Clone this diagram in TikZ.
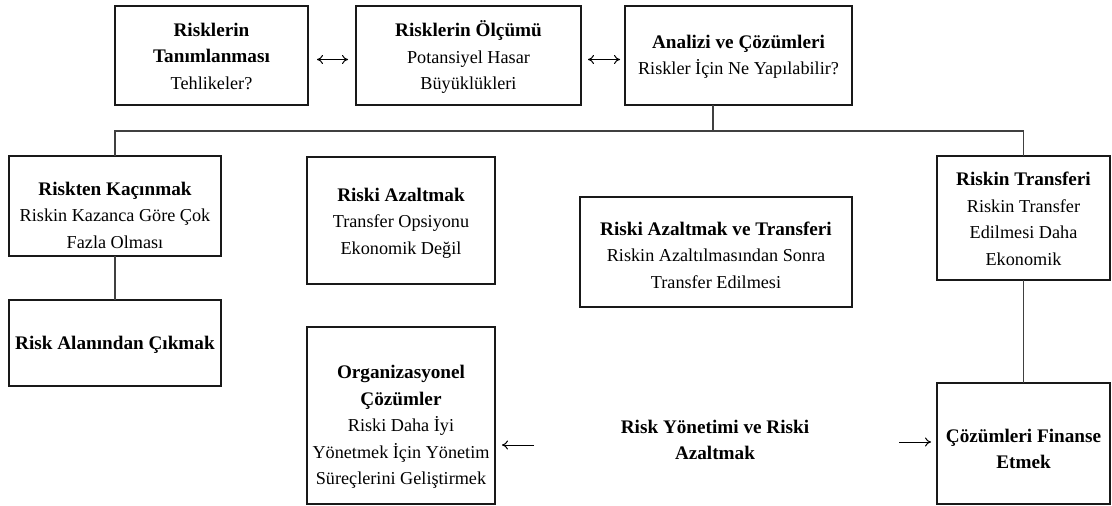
\documentclass[tikz,border=0pt]{standalone}
\usepackage{fontspec}
\setmainfont{Liberation Serif}
\usetikzlibrary{arrows.meta}

% headings are set bold and a little larger than the body lines
\newcommand{\hd}[1]{{\fontsize{19.2}{26.5}\selectfont\bfseries #1}}

\tikzset{
  box/.style={draw=black!90, line width=1.8pt, inner sep=0pt, outer sep=0pt},
  txt/.style={align=center, font=\fontsize{18.2}{26.5}\selectfont, inner sep=0pt},
  conn/.style={draw=black!75, line width=1.1pt},
  onetip/.style={draw=black, line width=1pt, arrows={-To[length=6pt,width=9pt]}},
  twotip/.style={draw=black, line width=1pt, arrows={To[length=6pt,width=9pt]-To[length=6pt,width=9pt]}}
}

\begin{document}
\begin{tikzpicture}[x=1pt, y=-1pt]
  \useasboundingbox (0,0) rectangle (1112,506);

  % top row: identification, measurement, analysis
  \node[box, minimum width=193pt, minimum height=99pt] (b1) at (211.5,55.5) {};
  \node[box, minimum width=225pt, minimum height=99pt] (b2) at (468.5,55.5) {};
  \node[box, minimum width=227pt, minimum height=99pt] (b3) at (738.5,55.5) {};
  \node[txt] (t1) at (211.5,56) {\hd{Risklerin}\\\hd{Tanımlanması}\\Tehlikeler?};
  \node[txt] (t2) at (468.5,57) {\hd{Risklerin Ölçümü}\\Potansiyel Hasar\\Büyüklükleri};
  \node[txt] (t3) at (738.5,57) {\hd{Analizi ve Çözümleri}\\Riskler İçin Ne Yapılabilir?};

  % middle row: the four options
  \node[box, minimum width=212pt, minimum height=100pt] (rk) at (115,206) {};
  \node[box, minimum width=188pt, minimum height=127pt] (ra) at (401,220.5) {};
  \node[box, minimum width=272pt, minimum height=110pt] (rat) at (716,252) {};
  \node[box, minimum width=173pt, minimum height=124pt] (rt) at (1023.5,218) {};
  \node[txt] (trk) at (115,215) {\hd{Riskten Kaçınmak}\\Riskin Kazanca Göre Çok\\Fazla Olması};
  \node[txt] (tra) at (401,223) {\hd{Riski Azaltmak}\\Transfer Opsiyonu\\Ekonomik Değil};
  \node[txt] (trat) at (716,255) {\hd{Riski Azaltmak ve Transferi}\\Riskin Azaltılmasından Sonra\\Transfer Edilmesi};
  \node[txt] (trt) at (1023.5,219) {\hd{Riskin Transferi}\\Riskin Transfer\\Edilmesi Daha\\Ekonomik};

  % bottom row
  \node[box, minimum width=212pt, minimum height=86pt] (rac) at (115,343) {};
  \node[box, minimum width=188pt, minimum height=177pt] (org) at (401,415.5) {};
  \node[box, minimum width=173pt, minimum height=121pt] (cf) at (1023.5,443.5) {};
  \node[txt] (trac) at (115,345) {\hd{Risk Alanından Çıkmak}};
  \node[txt] (torg) at (401,427) {\hd{Organizasyonel}\\\hd{Çözümler}\\Riski Daha İyi\\Yönetmek İçin Yönetim\\Süreçlerini Geliştirmek};
  \node[txt] (tcf) at (1023.5,449) {\hd{Çözümleri Finanse}\\\hd{Etmek}};
  \node[txt] (mid) at (715,440) {\hd{Risk Yönetimi ve Riski}\\\hd{Azaltmak}};

  % branching from the analysis box
  \coordinate (br) at (713,131);
  \draw[conn] (b3.south -| br) -- (br);
  \draw[conn] (rk.north) |- (br) -| (rt.north);
  \draw[conn] (rk.south) -- (rac.north);
  \draw[conn] (rt.south) -- (cf.north);

  % arrows between the top boxes
  \draw[twotip, shorten <=9pt, shorten >=8pt] ([yshift=-4pt]b1.east) -- ([yshift=-4pt]b2.west);
  \draw[twotip, shorten <=7pt, shorten >=5pt] ([yshift=-4pt]b2.east) -- ([yshift=-4pt]b3.west);

  % arrows from the central label
  \coordinate (la) at (534,445);
  \coordinate (ra) at (899,442);
  \draw[onetip, shorten >=7pt] (la) -- (org.east |- la);
  \draw[onetip, shorten >=6pt] (ra) -- (cf.west |- ra);
\end{tikzpicture}
\end{document}
